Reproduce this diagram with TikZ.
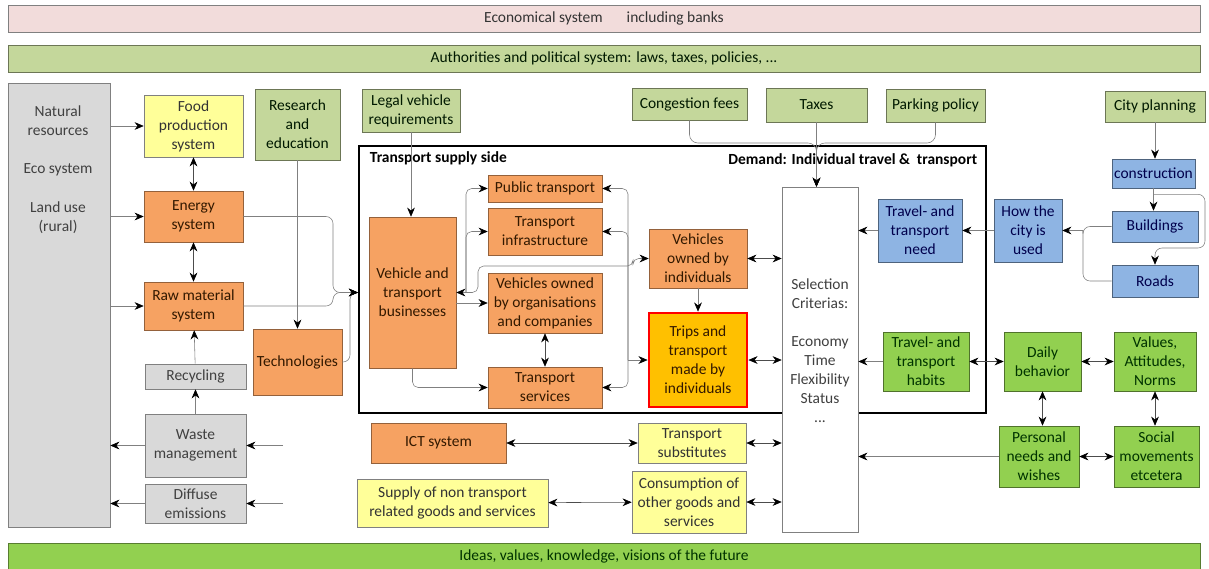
\documentclass[tikz,border=0pt]{standalone}
\usepackage{fontspec}
\setmainfont{Carlito}
\usepackage{tikz}
\usetikzlibrary{arrows.meta}
\definecolor{pinkG}{RGB}{242,220,219}
\definecolor{lgreen}{RGB}{196,215,155}
\definecolor{orangeF}{RGB}{246,162,98}
\definecolor{yellowF}{RGB}{255,255,153}
\definecolor{grayF}{RGB}{217,217,217}
\definecolor{blueF}{RGB}{142,180,227}
\definecolor{greenF}{RGB}{146,208,80}
\definecolor{goldF}{RGB}{255,192,0}
\definecolor{linkgray}{RGB}{128,128,128}

\begin{document}
\begin{tikzpicture}
[x=0.025cm, y=-0.025cm, font=\fontsize{11}{13.5}\selectfont,
   sz/.style 2 args={minimum width=#1*0.025cm, minimum height=#2*0.025cm},
   boxG/.style={shape=rectangle, draw, align=center, inner sep=1pt},
   pinkB/.style={boxG, fill=pinkG, draw=gray, text=black!80},
   lgreenG/.style={boxG, fill=lgreen, draw=lgreen!55!black, text=black!75!green!40!black},
   orangeG/.style={boxG, fill=orangeF, draw=orangeF!60!black, text=black!80!orange},
   yellowG/.style={boxG, fill=yellowF, draw=gray, text=black!80},
   grayG/.style={boxG, fill=grayF, draw=gray, text=black!75},
   blueG/.style={boxG, fill=blueF, draw=blueF!55!black, text=blue!30!black},
   greenG/.style={boxG, fill=greenF, draw=greenF!55!black, text=green!20!black},
   lbl/.style={align=center, text=black!75},
   link/.style={draw=linkgray, arrows={-Stealth[black, length=6.5pt, width=5.5pt]}},
   dbl/.style={draw=black!70, arrows={Stealth[black, length=6.5pt, width=5.5pt]-Stealth[black, length=6.5pt, width=5.5pt]}},
   plain/.style={draw=linkgray}]
\path[use as bounding box, fill=white] (0,0) rectangle (1209,568);

% bars
\node[pinkB, sz={1192}{27}] (Econ) at (604,18.5) {Economical system\hspace{0.6cm}including banks};
\node[lgreenG, sz={1192}{27}] (Auth) at (604,58.5) {Authorities and political system: laws, taxes, policies, ...};
\node[boxG, fill=greenF, draw=greenF!60!black, text=green!20!black, sz={1192}{27}] (Ideas) at (604,556.5) {Ideas, values, knowledge, visions of the future};

% left side
\node[grayG, sz={102}{444}] (Nature) at (59,305) {};
\node[lbl] (NatRes) at (58,121) {Natural\\resources};
\node[lbl] (EcoSys) at (58,170) {Eco system};
\node[lbl] (LandUse) at (58,218) {Land use\\(rural)};
\node[yellowG, sz={99}{62}] (Food) at (193.5,126) {Food\\production\\system};
\node[orangeG, sz={99}{51}] (Energy) at (193.5,216.5) {Energy\\system};
\node[orangeG, sz={99}{48}] (RawM) at (193.5,306) {Raw material\\system};
\node[grayG, sz={101}{25}] (Recyc) at (195.5,376.5) {Recycling};
\node[grayG, sz={101}{63}] (Waste) at (195.5,445.5) {Waste\\management};
\node[grayG, sz={101}{39}] (Diffuse) at (195.5,503.5) {Diffuse\\emissions};
\node[lgreenG, sz={85}{71}] (Research) at (297.5,124.5) {Research\\and\\education};
\node[orangeG, sz={89}{66}] (Tech) at (297.5,362) {Technologies};
\node[lgreenG, sz={98}{43}] (Legal) at (411,110.5) {Legal vehicle\\requirements};

% transport supply side
\node[draw=black, line width=1.5pt, sz={627}{267}] (Frame) at (672.5,279.5) {};
\node[anchor=west, font=\fontsize{11}{13.5}\selectfont\bfseries] (SupLbl) at (365,158) {Transport supply side};
\node[anchor=east, font=\fontsize{11}{13.5}\selectfont\bfseries] (DemLbl) at (982,160) {Demand: Individual travel \&\ \ transport};
\node[orangeG, sz={87}{151}] (VTB) at (412.5,292.5) {Vehicle and\\transport\\businesses};
\node[orangeG, sz={114}{27}] (PubT) at (545,188.5) {Public transport};
\node[orangeG, sz={114}{47}] (Infra) at (545,231.5) {Transport\\infrastructure};
\node[orangeG, sz={114}{60}] (VOrg) at (545,303) {Vehicles owned\\by organisations\\and companies};
\node[orangeG, sz={114}{41}] (TServ) at (545,387.5) {Transport\\services};
\node[orangeG, sz={98}{59}] (VInd) at (698,258.5) {Vehicles\\owned by\\individuals};
\node[boxG, fill=goldF, draw=red, line width=2pt, text=black!80!orange, sz={98}{94}] (Trips) at (698,360) {Trips and\\transport\\made by\\individuals};
\node[boxG, fill=white, draw=gray, sz={76}{345}] (Sel) at (820,359.5) {};
\node[lbl] (SelTxt) at (820,350.5) {Selection\\Criterias:\\[13.5pt]Economy\\Time\\Flexibility\\Status\\...};

% policies
\node[lgreenG, sz={115}{32}] (Cong) at (689.5,104) {Congestion fees};
\node[lgreenG, sz={101}{34}] (Taxes) at (816.5,105) {Taxes};
\node[lgreenG, sz={99}{33}] (Park) at (935.5,105.5) {Parking policy};
\node[lgreenG, sz={100}{31}] (City) at (1155,106.5) {City planning};

% city
\node[blueG, sz={84}{63}] (TNeed) at (920,230.5) {Travel- and\\transport\\need};
\node[blueG, sz={68}{63}] (CityUse) at (1028,230.5) {How the\\city is\\used};
\node[blueG, sz={83}{29}] (Constr) at (1153.5,173.5) {construction};
\node[blueG, sz={86}{31}] (Build) at (1155,226.5) {Buildings};
\node[blueG, sz={86}{32}] (Roads) at (1155,281) {Roads};

% behaviour
\node[greenG, sz={86}{59}] (THab) at (926,361.5) {Travel- and\\transport\\habits};
\node[greenG, sz={77}{59}] (Daily) at (1042.5,361.5) {Daily\\behavior};
\node[greenG, sz={82}{59}] (Values) at (1155,361.5) {Values,\\Attitudes,\\Norms};
\node[greenG, sz={80}{61}] (Pers) at (1039,456.5) {Personal\\needs and\\wishes};
\node[greenG, sz={85}{61}] (Social) at (1156.5,456.5) {Social\\movements\\etcetera};

% substitutes
\node[orangeG, sz={135}{40}] (ICT) at (438.5,443) {ICT system};
\node[yellowG, sz={108}{40}] (TSub) at (692,443) {Transport\\substitutes};
\node[yellowG, sz={191}{48}] (Supply) at (452.5,503) {Supply of non transport\\related goods and services};
\node[yellowG, sz={114}{62}] (Consum) at (689,502) {Consumption of\\other goods and\\services};

% left connectors
\draw [link] (Nature.east |- Food.west) to (Food.west);
\draw [link] (Nature.east |- Energy.west) to (Energy.west);
\draw [link] (Nature.east |- RawM.west) to (RawM.west);
\draw [dbl] (Food) to (Energy);
\draw [dbl] (Energy) to (RawM);
\draw [link] (Recyc) to (RawM);
\draw [link] (Waste) to (Recyc);
\draw [link] (Waste.west) to (Nature.east |- Waste.west);
\draw [link] (Diffuse.west) to (Nature.east |- Diffuse.west);
\coordinate (WasteIn) at (283,445.5);
\coordinate (DiffIn) at (283,503.5);
\draw [link] (WasteIn) to (Waste.east);
\draw [link] (DiffIn) to (Diffuse.east);
\draw [link] (Research.south) to (Tech.north);
\coordinate (VIn) at (Frame.west |- VTB.west);
\draw [link, rounded corners=5] (Energy.east) -| (333,292.5) -- (VIn);
\draw [link, rounded corners=5] (RawM.east) -| (333,292.5) -- (VIn);
\draw [link, rounded corners=5] (Tech.east) -| (350,292.5) -- (VIn);
\draw [link] (Legal.south) to (Legal.south |- VTB.north);

% supply side connectors
\coordinate (BrL) at (466,292.5);
\draw [link, rounded corners=4] (BrL) |- (PubT.west);
\draw [link, rounded corners=4] (BrL) |- (Infra.west);
\draw [link] (BrL) to (VTB.east);
\draw [link] (VTB.east |- VOrg.west) to (VOrg.west);
\draw [link, rounded corners=4] (BrL) -| (478,266) -- (633,266) |- (VInd.west);
\draw [link, rounded corners=4] (VTB.south) |- (TServ.west);
\draw [dbl] (VOrg) to (TServ);
\coordinate (BrR) at (628,360);
\draw [link, rounded corners=4] (BrR) |- (PubT.east);
\draw [link, rounded corners=4] (BrR) |- (Infra.east);
\draw [link, rounded corners=4] (BrR) |- (TServ.east);
\draw [link] (BrR) to (Trips.west);
\draw [link] (VInd) to (Trips);

% demand connectors
\coordinate (TxIn) at (Taxes.south |- Sel.north);
\draw [link] (Taxes.south) to (TxIn);
\draw [link, rounded corners=6] (Cong.south) |- (TxIn |- 0,143) -- (TxIn);
\draw [link, rounded corners=6] (Park.south) |- (TxIn |- 0,143) -- (TxIn);
\draw [dbl] (VInd.east) to (VInd.east -| Sel.west);
\draw [dbl] (Trips.east) to (Trips.east -| Sel.west);
\draw [dbl] (TSub.east) to (TSub.east -| Sel.west);
\draw [dbl] (Consum.east) to (Consum.east -| Sel.west);
\draw [dbl] (ICT) to (TSub);
\draw [dbl] (Supply) to (Consum);
\draw [link] (TNeed.west) to (TNeed.west -| Sel.east);
\draw [link] (CityUse) to (TNeed);
\draw [link] (THab.west) to (THab.west -| Sel.east);
\draw [link] (Pers.west) to (Pers.west -| Sel.east);
\draw [dbl] (Daily) to (THab);
\draw [dbl] (Daily) to (Values);
\draw [dbl] (Daily.south) to (Daily.south |- Pers.north);
\draw [dbl] (Values.south) to (Values.south |- Social.north);
\draw [dbl] (Pers) to (Social);

% city connectors
\draw [link] (City.south) to (City.south |- Constr.north);
\draw [link] (Constr.south) to (Constr.south |- Build.north);
\coordinate (CBr) at ([yshift=-0.15cm]Constr.south);
\draw [link, rounded corners=5] (CBr) -| (1205,248) -| (Roads.north);
\coordinate (Mrg) at (1083,230.5);
\draw [plain, rounded corners=5] (Build.west) -| (Mrg);
\draw [plain, rounded corners=5] (Roads.west) -| (Mrg);
\draw [link] (Mrg) to (CityUse.east);
\end{tikzpicture}
\end{document}
